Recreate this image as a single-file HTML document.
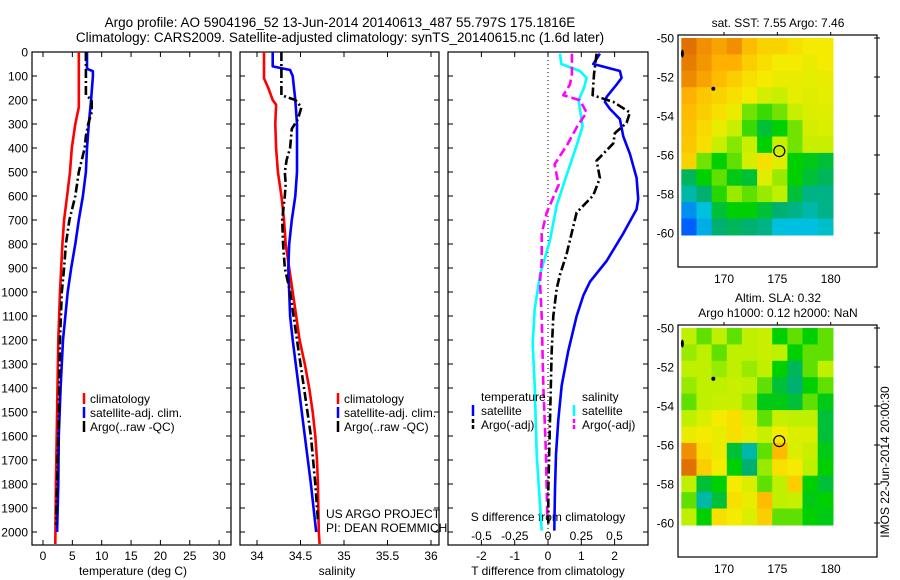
<!DOCTYPE html>
<html><head><meta charset="utf-8"><style>
body{margin:0;background:#fff;}
svg{display:block;font-family:"Liberation Sans",sans-serif;}
</style></head><body>
<svg id="fig" width="900" height="580" viewBox="0 0 900 580">
<text x="340" y="27" font-size="13.5" text-anchor="middle">Argo profile: AO 5904196_52 13-Jun-2014 20140613_487 55.797S 175.1816E</text>
<text x="340" y="42" font-size="13.5" text-anchor="middle">Climatology: CARS2009. Satellite-adjusted climatology: synTS_20140615.nc (1.6d later)</text>
</svg>
<script>
// ---------- DATA ----------
const depthTicks=[0,100,200,300,400,500,600,700,800,900,1000,1100,1200,1300,1400,1500,1600,1700,1800,1900,2000];
const tempTicks=[0,5,10,15,20,25,30];
const salTicks=[34,34.5,35,35.5,36];
const salTickLabels=["34","34.5","35","35.5","36"];
const dTTicks=[-2,-1,0,1,2];
const dSTicks=[-0.5,-0.25,0,0.25,0.5];
const dSTickLabels=["-0.5","-0.25","0","0.25","0.5"];
// temperature panel
const tClimDepth=[0,230,300,400,500,600,700,800,900,1000,1200,1500,1800,2050];
const tClimVal=[6.1,6.1,5.5,4.9,4.6,4.1,3.6,3.3,3.1,2.9,2.6,2.4,2.2,2.1];
const tSatDepth=[0,70,80,100,200,300,400,500,600,700,800,900,1000,1200,1400,1600,1800,2000];
const tSatVal=[7.5,7.5,8.5,8.5,8.2,7.8,7.5,7.3,6.8,6.1,5.5,4.8,4.2,3.4,3.0,2.7,2.6,2.4];
const tArgoDepth=[0,100,180,200,250,300,350,400,500,600,700,800,900,1000,1200,1500,1800,1970];
const tArgoVal=[7.3,7.3,7.3,8.3,8.3,7.7,7.3,7.1,6.1,5.5,4.5,3.9,3.6,3.2,2.9,2.7,2.4,2.2];
// salinity panel
const sClimDepth=[0,110,150,200,220,300,400,500,600,700,800,900,1000,1100,1200,1300,1400,1500,1600,1700,1800,2000,2050];
const sClimVal=[34.08,34.08,34.13,34.18,34.22,34.21,34.22,34.24,34.28,34.31,34.33,34.37,34.41,34.45,34.49,34.55,34.6,34.64,34.67,34.69,34.7,34.71,34.72];
const sSatDepth=[0,60,75,100,200,300,500,600,700,800,900,1000,1100,1200,1400,1600,1800,2000];
const sSatVal=[34.18,34.18,34.38,34.41,34.44,34.46,34.46,34.44,34.40,34.37,34.36,34.37,34.38,34.41,34.48,34.55,34.62,34.68];
const sArgoDepth=[0,180,200,230,280,320,400,450,500,550,600,700,800,900,1000,1200,1400,1600,1800,1950];
const sArgoVal=[34.28,34.28,34.44,34.51,34.47,34.40,34.38,34.34,34.32,34.33,34.32,34.29,34.30,34.32,34.38,34.46,34.54,34.62,34.67,34.7];
// difference panel
const dTSatDepth=[7,50,79,108,136,187,208,237,280,352,424,525,612,655,756,871,957,1015,1101,1245,1389,1533,1677,1821,1994];
const dTSatVal=[1.56,1.36,2.16,2.21,2.06,1.76,1.71,1.86,2.16,2.26,2.46,2.66,2.71,2.66,2.26,1.76,1.26,1.06,0.86,0.61,0.41,0.31,0.24,0.21,0.19];
const dTArgoDepth=[7,93,180,208,252,295,338,381,453,525,597,669,756,842,928,986,1101,1245,1533,1821,1965];
const dTArgoVal=[1.46,1.38,1.34,1.96,2.46,2.36,2.01,1.96,1.46,1.56,1.36,0.86,0.71,0.56,0.36,0.26,0.16,0.11,0.06,0.01,0.01];
const dSSatDepth=[7,50,79,108,151,201,237,309,381,496,640,784,928,1072,1216,1389,1677,1994];
const dSSatVal=[0.09,0.10,0.24,0.29,0.27,0.23,0.24,0.26,0.22,0.15,0.065,0.015,-0.06,-0.10,-0.115,-0.10,-0.085,-0.047];
const dSArgoDepth=[7,93,136,180,201,252,309,381,468,554,669,756,871,957,1101,1389,1677,1936];
const dSArgoVal=[0.18,0.18,0.165,0.115,0.24,0.29,0.22,0.15,0.05,0.08,-0.01,-0.047,-0.047,-0.06,-0.047,-0.035,-0.015,-0.005];
// maps (rows lat 50->60, cols lon 166->180), normalized colour values 0..1
const mapLats=[50,60.1];
const mapLons=[166,180.2];
const latTicks=[50,52,54,56,58,60];
const latTickLabels=["-50","-52","-54","-56","-58","-60"];
const lonTicks=[170,175,180];
const sstGrid=[
[0.9,0.85,0.82,0.85,0.78,0.74,0.74,0.72,0.7,0.7],
[0.88,0.84,0.8,0.8,0.75,0.72,0.7,0.7,0.68,0.7],
[0.86,0.82,0.78,0.75,0.72,0.7,0.68,0.68,0.67,0.68],
[0.8,0.76,0.74,0.72,0.7,0.64,0.62,0.67,0.66,0.67],
[0.78,0.75,0.72,0.68,0.56,0.53,0.56,0.62,0.65,0.66],
[0.77,0.73,0.68,0.62,0.53,0.45,0.5,0.56,0.64,0.65],
[0.76,0.72,0.62,0.57,0.62,0.5,0.62,0.56,0.62,0.62],
[0.74,0.56,0.5,0.55,0.64,0.72,0.66,0.5,0.48,0.45],
[0.42,0.5,0.55,0.48,0.45,0.66,0.58,0.5,0.45,0.42],
[0.35,0.4,0.52,0.58,0.55,0.58,0.6,0.45,0.38,0.38],
[0.25,0.3,0.45,0.5,0.5,0.45,0.4,0.38,0.35,0.38],
[0.2,0.28,0.4,0.42,0.4,0.38,0.3,0.3,0.3,0.32]];
const slaGrid=[
[0.6,0.55,0.6,0.55,0.6,0.62,0.5,0.55,0.5,0.55],
[0.58,0.6,0.55,0.6,0.6,0.62,0.6,0.5,0.55,0.55],
[0.6,0.6,0.58,0.6,0.58,0.6,0.5,0.42,0.55,0.6],
[0.58,0.6,0.6,0.62,0.6,0.55,0.45,0.4,0.5,0.55],
[0.55,0.6,0.62,0.62,0.58,0.48,0.48,0.45,0.55,0.48],
[0.6,0.65,0.7,0.72,0.65,0.55,0.62,0.6,0.6,0.45],
[0.68,0.7,0.68,0.72,0.68,0.62,0.7,0.65,0.65,0.45],
[0.85,0.72,0.68,0.45,0.35,0.55,0.78,0.65,0.62,0.48],
[0.9,0.75,0.7,0.5,0.4,0.58,0.72,0.7,0.6,0.5],
[0.6,0.45,0.5,0.7,0.65,0.55,0.6,0.75,0.5,0.45],
[0.55,0.35,0.45,0.72,0.68,0.78,0.6,0.62,0.48,0.5],
[0.6,0.5,0.72,0.7,0.65,0.75,0.55,0.55,0.5,0.48]];
const argoLon=175.18, argoLat=55.8;

// ---------- DRAWING ----------
const NS="http://www.w3.org/2000/svg";
const svg=document.getElementById('fig');
function mk(tag,attrs,parent){const e=document.createElementNS(NS,tag);for(const k in attrs)e.setAttribute(k,attrs[k]);(parent||svg).appendChild(e);return e;}
function txt(x,y,s,size,anchor,parent){const e=mk('text',{x:x,y:y,'font-size':size,'text-anchor':anchor||'middle'},parent);e.textContent=s;return e;}
const yDepth=d=>52+d*0.24;
const Y0=52,Y1=545;
function axesBox(x0,x1,name){
  const g=mk('g',{});
  
  
  mk('rect',{x:x0,y:Y0,width:x1-x0,height:Y1-Y0,fill:'none',stroke:'#000','stroke-width':1.2},g);
  depthTicks.forEach(d=>{const y=yDepth(d);mk('line',{x1:x0,x2:x0+5,y1:y,y2:y,stroke:'#000'},g);mk('line',{x1:x1-5,x2:x1,y1:y,y2:y,stroke:'#000'},g);});
  return g;
}
function xTicks(g,vals,labels,fx){
  vals.forEach((v,i)=>{const x=fx(v);mk('line',{x1:x,x2:x,y1:Y0,y2:Y0+5,stroke:'#000'},g);mk('line',{x1:x,x2:x,y1:Y1-5,y2:Y1,stroke:'#000'},g);
    txt(x,Y1+15,labels[i],12,'middle',g);});
}
function line(g,depths,vals,fx,color,dash,name){
  const pts=depths.map((d,i)=>fx(vals[i]).toFixed(1)+','+yDepth(d).toFixed(1)).join(' ');
  const p=mk('polyline',{points:pts,fill:'none',stroke:color,'stroke-width':2.6,'stroke-linejoin':'round'},g);
  if(dash)p.setAttribute('stroke-dasharray',dash);
  
  
}
// depth labels
const gy=mk('g',{});


depthTicks.forEach(d=>txt(28,yDepth(d)+4.5,String(d),12,'end',gy));

// panel 1
const fT=v=>43+v*5.87;
const g1=axesBox(32,231,'temperature-panel');
xTicks(g1,tempTicks,tempTicks.map(String),fT);
txt(133,575,'temperature (deg C)',12,'middle',g1);
line(g1,tClimDepth,tClimVal,fT,'#ff0000',null,'temperature-climatology-line');
line(g1,tSatDepth,tSatVal,fT,'#0000ff',null,'temperature-satellite-line');
line(g1,tArgoDepth,tArgoVal,fT,'#000',"9,3,2,3",'temperature-argo-line');
function legend3(g,x,y){
  const items=[['#ff0000','climatology'],['#0000ff','satellite-adj. clim.'],['#000','Argo(..raw -QC)']];
  items.forEach((it,i)=>{const yy=y+i*14;mk('line',{x1:x,x2:x,y1:yy-10,y2:yy+1,stroke:it[0],'stroke-width':2.5},g);txt(x+6,yy,it[1],12,'start',g);});
}
const l1=mk('g',{});


legend3(l1,84,403);

// panel 2
const fS=v=>257+(v-34)*87;
const g2=axesBox(240,439,'salinity-panel');
xTicks(g2,salTicks,salTickLabels,fS);
txt(337,575,'salinity',12,'middle',g2);
line(g2,sClimDepth,sClimVal,fS,'#ff0000',null,'salinity-climatology-line');
line(g2,sSatDepth,sSatVal,fS,'#0000ff',null,'salinity-satellite-line');
line(g2,sArgoDepth,sArgoVal,fS,'#000',"9,3,2,3",'salinity-argo-line');
const l2=mk('g',{});


legend3(l2,338,403);
const cr=mk('g',{});


txt(326,518,'US ARGO PROJECT',12,'start',cr);
txt(326,532,'PI: DEAN ROEMMICH',12,'start',cr);

// panel 3
const fdT=v=>548+v*33.3;
const fdS=v=>548+v*133;
const g3=axesBox(448,648,'difference-panel');
xTicks(g3,dTTicks,dTTicks.map(String),fdT);
dSTicks.forEach((v,i)=>txt(fdS(v),Y1-5,dSTickLabels[i],12,'middle',g3));
txt(548,521,'S difference from climatology',12,'middle',g3);
txt(548,575,'T difference from climatology',12,'middle',g3);
mk('line',{x1:548,x2:548,y1:Y0,y2:Y1,stroke:'#000','stroke-dasharray':'1,3'},g3);
line(g3,dSSatDepth,dSSatVal,fdS,'#00ffff',null,'salinity-diff-satellite-line');
line(g3,dSArgoDepth,dSArgoVal,fdS,'#ff00ff',"9,4",'salinity-diff-argo-line');
line(g3,dTSatDepth,dTSatVal,fdT,'#0000ff',null,'temperature-diff-satellite-line');
line(g3,dTArgoDepth,dTArgoVal,fdT,'#000',"9,3,2,3",'temperature-diff-argo-line');
const l3=mk('g',{});


txt(481,401,'temperature',12,'start',l3);
txt(582,401,'salinity',12,'start',l3);
[['#0000ff','satellite',473,null],['#000','Argo(-adj)',473,'4,2'],['#00ffff','satellite',574,null],['#ff00ff','Argo(-adj)',574,'4,2']].forEach((it,i)=>{
  const yy=415+(i%2)*14;const l=mk('line',{x1:it[2],x2:it[2],y1:yy-10,y2:yy+1,stroke:it[0],'stroke-width':2.5},l3);
  if(it[3])l.setAttribute('stroke-dasharray',it[3]);
  txt(it[2]+8,yy,it[1],12,'start',l3);});

// maps
function cmap(v){
  const st=[[0,[0,0,176]],[0.2,[0,96,255]],[0.3,[0,192,224]],[0.4,[0,176,112]],[0.5,[0,208,0]],[0.6,[190,240,0]],[0.7,[245,235,0]],[0.8,[255,176,0]],[0.9,[224,112,0]],[1,[160,48,0]]];
  v=Math.max(0,Math.min(1,v));
  for(let i=1;i<st.length;i++){if(v<=st[i][0]){const a=st[i-1],b=st[i],t=(v-a[0])/(b[0]-a[0]);
    const c=a[1].map((x,k)=>Math.round(x+(b[1][k]-x)*t));return 'rgb('+c.join(',')+')';}}
  return 'rgb(160,48,0)';
}
function drawMap(top,grid,name,titles){
  const bx0=678,bx1=877,by0=top,by1=top+232;
  const fx=lon=>724+(lon-170)*10.67;
  const fy=lat=>top+3+(lat-50)*19.5;
  const g=mk('g',{});
  
  
  const rows=grid.length,cols=grid[0].length;
  const dLat=(mapLats[1]-mapLats[0])/rows,dLon=(mapLons[1]-mapLons[0])/cols;
  grid.forEach((row,r)=>row.forEach((v,c)=>{
    const x=fx(mapLons[0]+c*dLon),y=fy(mapLats[0]+r*dLat);
    const cell=mk('rect',{x:x.toFixed(1),y:y.toFixed(1),width:(fx(mapLons[0]+(c+1)*dLon)-x+0.6).toFixed(1),height:(fy(mapLats[0]+(r+1)*dLat)-y+0.6).toFixed(1),fill:cmap(v)},g);
    
    
  }));
  mk('rect',{x:bx0,y:by0,width:bx1-bx0,height:by1-by0,fill:'none',stroke:'#000','stroke-width':1.2},g);
  mk('circle',{cx:fx(169),cy:fy(52.6),r:2,fill:'#000'},g);
  mk('ellipse',{cx:fx(166.1),cy:fy(50.8),rx:1.5,ry:4,fill:'#000'},g);
  const ac=mk('circle',{cx:fx(argoLon),cy:fy(argoLat),r:5.5,fill:'none',stroke:'#000','stroke-width':1.2},g);
  
  
  latTicks.forEach((l,i)=>{const y=fy(l);mk('line',{x1:bx1-3,x2:bx1+3,y1:y,y2:y,stroke:'#000'},g);txt(674,y+4.5,latTickLabels[i],12,'end',g);});
  lonTicks.forEach(l=>{const x=fx(l);mk('line',{x1:x,x2:x,y1:by0-3,y2:by0,stroke:'#000'},g);txt(x,by1+16,String(l),12,'middle',g);});
  titles.forEach((t,i)=>txt(778,top-(titles.length-1-i)*15-8,t,12,'middle',g));
}
drawMap(35,sstGrid,'sst-map',['sat. SST: 7.55 Argo: 7.46']);
drawMap(325,slaGrid,'sla-map',['Altim. SLA: 0.32','Argo h1000: 0.12 h2000: NaN']);
const st=mk('text',{x:0,y:0,'font-size':12,'text-anchor':'middle',transform:'translate(889,462) rotate(-90)'});
st.textContent='IMOS 22-Jun-2014 20:00:30';


</script>
</body></html>
